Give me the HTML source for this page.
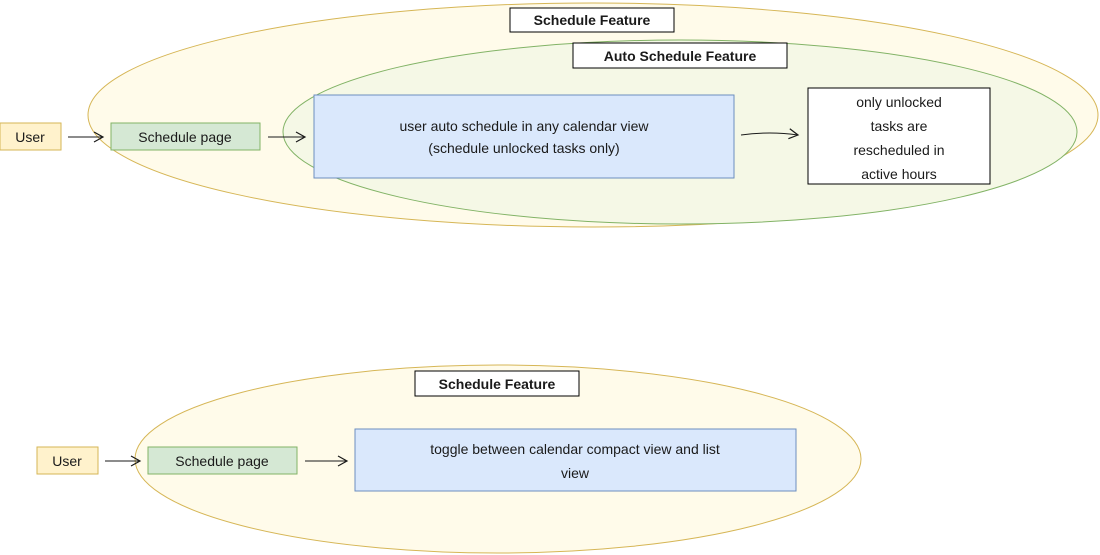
<!DOCTYPE html>
<html><head><meta charset="utf-8"><style>
html,body{margin:0;padding:0;background:#fff;}
svg{display:block;}
text{font-family:"Liberation Sans",sans-serif;fill:#1a1a1a;}
</style></head><body>
<svg width="1100" height="555" viewBox="0 0 1100 555" xmlns="http://www.w3.org/2000/svg">
<defs>
<marker id="a" markerWidth="12" markerHeight="12" refX="10" refY="6" orient="auto" markerUnits="userSpaceOnUse">
<path d="M1,1 L10,6 L1,11" fill="none" stroke="#1a1a1a" stroke-width="1.2"/>
</marker>
</defs>
<!-- top -->
<ellipse cx="593" cy="115" rx="505" ry="112" fill="#fffbea" stroke="#d6b656" stroke-width="1"/>
<ellipse cx="680" cy="132" rx="397" ry="92" fill="#f5f8e6" stroke="#82b366" stroke-width="1"/>
<rect x="510" y="8" width="164" height="24" fill="#fff" stroke="#000"/>
<text x="592" y="25" font-size="14" font-weight="bold" text-anchor="middle">Schedule Feature</text>
<rect x="573" y="43" width="214" height="25" fill="#fff" stroke="#000"/>
<text x="680" y="61" font-size="14" font-weight="bold" text-anchor="middle">Auto Schedule Feature</text>
<rect x="0" y="123" width="61" height="27" fill="#fff2cc" stroke="#d6b656"/>
<text x="30" y="142" font-size="14" text-anchor="middle">User</text>
<line x1="68" y1="137" x2="103" y2="137" stroke="#1a1a1a" marker-end="url(#a)"/>
<rect x="111" y="123" width="149" height="27" fill="#d5e8d4" stroke="#82b366"/>
<text x="185" y="142" font-size="14" text-anchor="middle">Schedule page</text>
<line x1="268" y1="137" x2="305" y2="137" stroke="#1a1a1a" marker-end="url(#a)"/>
<rect x="314" y="95" width="420" height="83" fill="#dae8fc" stroke="#6c8ebf"/>
<text x="524" y="131" font-size="14" text-anchor="middle">user auto schedule in any calendar view</text>
<text x="524" y="153" font-size="14" text-anchor="middle">(schedule unlocked tasks only)</text>
<path d="M741,135 Q770,131 798,135" fill="none" stroke="#1a1a1a" marker-end="url(#a)"/>
<rect x="808" y="88" width="182" height="96" fill="#fff" stroke="#000"/>
<text x="899" y="107" font-size="14" text-anchor="middle">only unlocked</text>
<text x="899" y="131" font-size="14" text-anchor="middle">tasks are</text>
<text x="899" y="155" font-size="14" text-anchor="middle">rescheduled in</text>
<text x="899" y="179" font-size="14" text-anchor="middle">active hours</text>
<!-- bottom -->
<ellipse cx="498" cy="459" rx="363" ry="94" fill="#fffbea" stroke="#d6b656"/>
<rect x="415" y="371" width="164" height="25" fill="#fff" stroke="#000"/>
<text x="497" y="389" font-size="14" font-weight="bold" text-anchor="middle">Schedule Feature</text>
<rect x="37" y="447" width="61" height="27" fill="#fff2cc" stroke="#d6b656"/>
<text x="67" y="466" font-size="14" text-anchor="middle">User</text>
<line x1="105" y1="461" x2="140" y2="461" stroke="#1a1a1a" marker-end="url(#a)"/>
<rect x="148" y="447" width="149" height="27" fill="#d5e8d4" stroke="#82b366"/>
<text x="222" y="466" font-size="14" text-anchor="middle">Schedule page</text>
<line x1="305" y1="461" x2="347" y2="461" stroke="#1a1a1a" marker-end="url(#a)"/>
<rect x="355" y="429" width="441" height="62" fill="#dae8fc" stroke="#6c8ebf"/>
<text x="575" y="454" font-size="14" text-anchor="middle">toggle between calendar compact view and list</text>
<text x="575" y="478" font-size="14" text-anchor="middle">view</text>
</svg>
</body></html>
